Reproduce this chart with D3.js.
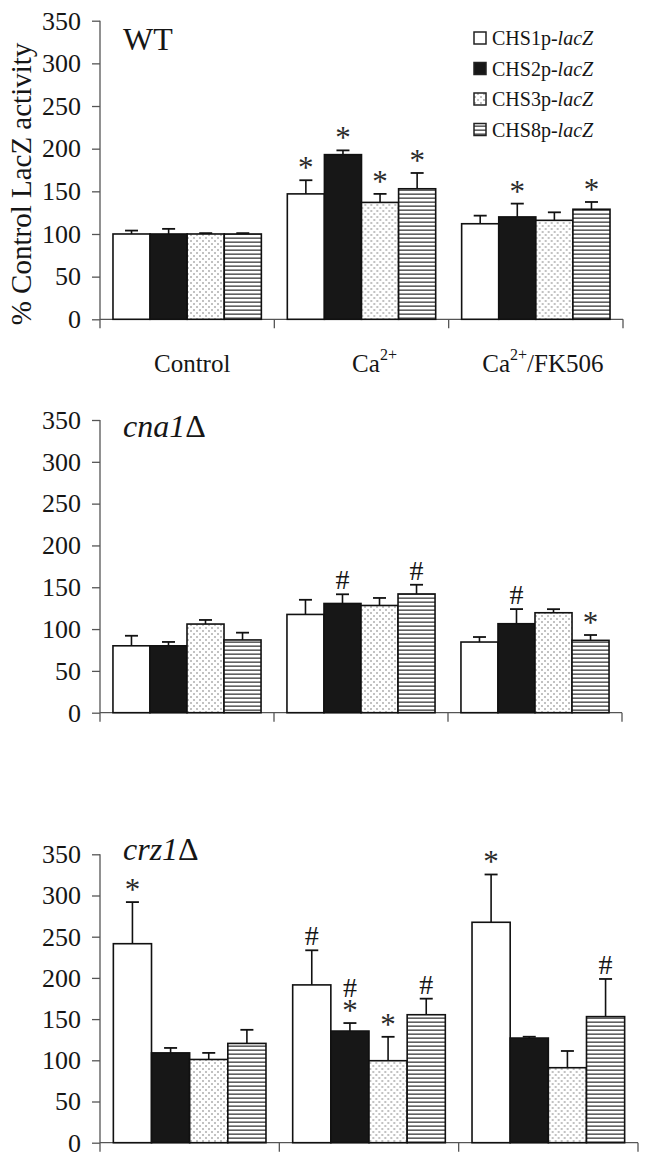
<!DOCTYPE html>
<html><head><meta charset="utf-8">
<script src="https://cdn.jsdelivr.net/npm/d3@7"></script>
<style>
body{margin:0;background:#fff}
svg{display:block}
text{font-family:"Liberation Serif","Times New Roman",serif;fill:#161616}
</style>
</head><body>
<svg id="c" width="648" height="1161"></svg>
<script>
// ---------- data ----------
const categories = ["Control", "Ca2+", "Ca2+/FK506"];
const series = ["CHS1p-lacZ", "CHS2p-lacZ", "CHS3p-lacZ", "CHS8p-lacZ"];
const yTicks = [0, 50, 100, 150, 200, 250, 300, 350];

const wtValues  = [[100, 100, 100, 100], [147, 193, 137, 153], [112, 120, 116, 129]];
const wtErrors  = [[4, 6, 1, 1], [16, 5, 10, 18.5], [9.5, 15.6, 9.4, 8.5]];
const wtMarks   = [["", "", "", ""], ["*", "*", "*", "*"], ["", "*", "", "*"]];

const cnaValues = [[80, 80, 106, 87], [117.5, 130.6, 128.2, 142], [84.5, 106.4, 119.5, 86.5]];
const cnaErrors = [[12, 4.6, 4.9, 8.7], [17.5, 11, 9, 11], [6, 17.5, 4.3, 6.4]];
const cnaMarks  = [["", "", "", ""], ["", "#", "", "#"], ["", "#", "", "*"]];

const crzValues = [[241.5, 109, 101, 120.5], [191.5, 135.5, 99.5, 155.3], [267.5, 127, 91, 153]];
const crzErrors = [[50.5, 6, 8, 16.5], [42, 9.7, 29, 19.5], [58, 1.6, 20.3, 45.7]];
const crzMarks  = [["*", "", "", ""], ["#", "*#", "*", "#"], ["*", "", "", "#"]];

// ---------- layout ----------
const panels = [
  {title: "WT", italic: false, values: wtValues, errors: wtErrors, marks: wtMarks, top: 20.7, bottom: 319.3, right: 623, titleY: 50, catLabels: true},
  {title: "cna1", italic: true, values: cnaValues, errors: cnaErrors, marks: cnaMarks, top: 420, bottom: 712.7, right: 622, titleY: 436.5, catLabels: false},
  {title: "crz1", italic: true, values: crzValues, errors: crzErrors, marks: crzMarks, top: 854.3, bottom: 1142.7, right: 638, titleY: 860, catLabels: false}
];
const axisLeft = 100;
const axisColor = "#555";
const barStroke = "#111";
const markStyle = {"*": {size: 31, lift: 2, step: 21, fill: "#2a2a2a"}, "#": {size: 28, lift: 5, step: 22, fill: "#161616"}};

const svg = d3.select("#c");
const defs = svg.append("defs");

// dotted pattern
const dots = defs.append("pattern").attr("id", "dots").attr("patternUnits", "userSpaceOnUse")
  .attr("width", 6).attr("height", 6);
dots.append("rect").attr("width", 6).attr("height", 6).attr("fill", "#fff");
dots.append("circle").attr("cx", 1).attr("cy", 1).attr("r", 0.75).attr("fill", "#666");
dots.append("circle").attr("cx", 4).attr("cy", 4).attr("r", 0.75).attr("fill", "#666");

// striped pattern
const stripes = defs.append("pattern").attr("id", "stripes").attr("patternUnits", "userSpaceOnUse")
  .attr("width", 8).attr("height", 4);
stripes.append("rect").attr("width", 8).attr("height", 4).attr("fill", "#fff");
stripes.append("rect").attr("y", 1.5).attr("width", 8).attr("height", 1.3).attr("fill", "#3a3a3a");

const fills = d3.scaleOrdinal().domain(series).range(["#fff", "#171717", "url(#dots)", "url(#stripes)"]);

panels.forEach((p) => {
  const g = svg.append("g");
  const x0 = d3.scaleBand().domain(categories).range([axisLeft, p.right]).paddingInner(0).paddingOuter(0);
  const x1 = d3.scaleBand().domain(series).range([0, x0.bandwidth()]).paddingInner(0).paddingOuter(0.35);
  const y = d3.scaleLinear().domain([0, 350]).range([p.bottom, p.top]);

  // y axis
  const ya = g.append("g").attr("transform", `translate(${axisLeft},0)`)
    .call(d3.axisLeft(y).tickValues(yTicks).tickSize(8).tickPadding(11).tickFormat(d3.format("d")));
  ya.select(".domain").remove();
  ya.selectAll(".tick line").attr("stroke", axisColor).attr("stroke-width", 1.3);
  ya.selectAll(".tick text").attr("font-size", 26).attr("fill", "#161616")
    .attr("font-family", '"Liberation Serif","Times New Roman",serif');
  g.append("line").attr("x1", axisLeft).attr("x2", axisLeft).attr("y1", y(350)).attr("y2", y(0) + 9)
    .attr("stroke", axisColor).attr("stroke-width", 1.3);

  // x axis line and category boundary ticks
  g.append("line").attr("x1", axisLeft).attr("x2", p.right).attr("y1", y(0)).attr("y2", y(0))
    .attr("stroke", axisColor).attr("stroke-width", 1.3);
  const bounds = categories.slice(1).map(c => x0(c)).concat([p.right]);
  g.selectAll(".xt").data(bounds).join("line")
    .attr("x1", d => d).attr("x2", d => d).attr("y1", y(0)).attr("y2", y(0) + 9)
    .attr("stroke", axisColor).attr("stroke-width", 1.3);

  // bars
  categories.forEach((cat, ci) => {
    const cg = g.append("g").attr("transform", `translate(${x0(cat)},0)`);
    const rows = series.map((s, si) => ({s, v: p.values[ci][si], e: p.errors[ci][si], m: p.marks[ci][si]}));
    cg.selectAll(".err").data(rows).join("line")
      .attr("x1", d => x1(d.s) + x1.bandwidth() / 2).attr("x2", d => x1(d.s) + x1.bandwidth() / 2)
      .attr("y1", d => y(d.v)).attr("y2", d => y(d.v + d.e))
      .attr("stroke", barStroke).attr("stroke-width", 1.6);
    cg.selectAll(".cap").data(rows).join("line")
      .attr("x1", d => x1(d.s) + x1.bandwidth() / 2 - 6.5).attr("x2", d => x1(d.s) + x1.bandwidth() / 2 + 6.5)
      .attr("y1", d => y(d.v + d.e)).attr("y2", d => y(d.v + d.e))
      .attr("stroke", barStroke).attr("stroke-width", 1.8);
    cg.selectAll(".bar").data(rows).join("rect")
      .attr("x", d => x1(d.s)).attr("width", x1.bandwidth())
      .attr("y", d => y(d.v)).attr("height", d => y(0) - y(d.v))
      .attr("fill", d => fills(d.s)).attr("stroke", barStroke).attr("stroke-width", 1.6);
    // significance marks (stacked bottom to top, one text element per bar)
    rows.filter(d => d.m).forEach(d => {
      const cx = x1(d.s) + x1.bandwidth() / 2;
      const cap = y(d.v + d.e);
      const tx = cg.append("text").attr("text-anchor", "middle");
      let base = cap;
      d.m.split("").forEach((ch, k) => {
        const st = markStyle[ch];
        if (k > 0) base -= markStyle[d.m[k - 1]].step;
        tx.append("tspan").attr("x", cx).attr("y", base - st.lift)
          .attr("font-size", st.size).attr("fill", st.fill).text(ch);
      });
    });
  });

  // panel title
  const t = g.append("text").attr("x", 123).attr("y", p.titleY).attr("font-size", 32);
  if (p.italic) {
    t.append("tspan").attr("font-style", "italic").text(p.title);
    t.append("tspan").text("\u0394");
  } else {
    t.text(p.title);
  }

  // category labels
  if (p.catLabels) {
    const offs = [5, 13, 7];
    categories.forEach((cat, ci) => {
      const tx = g.append("text").attr("x", x0(cat) + x0.bandwidth() / 2 + offs[ci]).attr("y", y(0) + 53)
        .attr("text-anchor", "middle").attr("font-size", 25);
      const parts = cat.split("2+");
      if (parts.length === 1) {
        tx.text(cat);
      } else {
        tx.append("tspan").text(parts[0]);
        tx.append("tspan").attr("font-size", 16).attr("dy", -12).text("2+");
        if (parts[1]) tx.append("tspan").attr("dy", 12).text(parts[1]);
      }
    });
  }
});

// y axis title
svg.append("text").attr("transform", `translate(31,${(panels[0].top + panels[0].bottom) / 2 + 14}) rotate(-90)`)
  .attr("text-anchor", "middle").attr("font-size", 29).text("% Control LacZ activity");

// legend
const leg = svg.append("g");
series.forEach((s, i) => {
  const yy = 38 + i * 30.5;
  leg.append("rect").attr("x", 474).attr("y", yy - 6).attr("width", 12).attr("height", 12)
    .attr("fill", fills(s)).attr("stroke", "#222").attr("stroke-width", 1.5);
  const tx = leg.append("text").attr("x", 492).attr("y", yy + 7).attr("font-size", 20);
  const [a, b] = s.split("-");
  tx.append("tspan").text(a + "-");
  tx.append("tspan").attr("font-style", "italic").text(b);
});
</script>
</body></html>
